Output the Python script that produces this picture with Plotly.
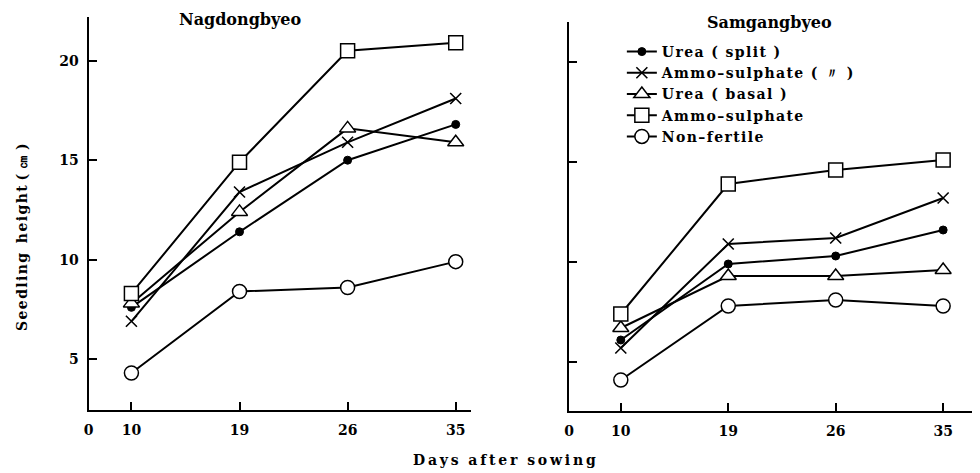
import plotly.graph_objects as go

# ---------------- data ----------------
days = [10, 19, 26, 35]
tick_labels = ["0", "10", "19", "26", "35"]
y_ticks = [5, 10, 15, 20]

series_names = ["Urea ( split )", "Ammo–sulphate ( 〃 )", "Urea ( basal )",
                "Ammo–sulphate", "Non–fertile"]

# Nagdongbyeo
nag_urea_split = [7.6, 11.4, 15.0, 16.8]
nag_ammo_split = [6.9, 13.4, 15.9, 18.1]
nag_urea_basal = [7.8, 12.4, 16.6, 15.9]
nag_ammo_basal = [8.3, 14.9, 20.5, 20.9]
nag_non_fertile = [4.3, 8.4, 8.6, 9.9]

# Samgangbyeo
sam_urea_split = [6.1, 9.9, 10.3, 11.6]
sam_ammo_split = [5.7, 10.9, 11.2, 13.2]
sam_urea_basal = [6.7, 9.3, 9.3, 9.6]
sam_ammo_basal = [7.4, 13.9, 14.6, 15.1]
sam_non_fertile = [4.1, 7.8, 8.1, 7.8]

# page has an 8px body margin -> figure sized so that it fills the window exactly
OFF = 8
W, H = 980 - OFF, 473 - OFF
FONT = "DejaVu Serif"
HS = "\u200a"  # hair space, used for the letter-spaced typesetting of the original


def spaced(s):
    return HS.join(s)


def px_x(p):
    return (p - OFF) / W


def px_y(p):
    return 1 - (p - OFF) / H


styles = [
    dict(symbol="circle", size=8, color="black", line=dict(color="black", width=1)),
    dict(symbol="x-thin-open", size=11, color="black", line=dict(color="black", width=1.6)),
    dict(symbol="triangle-up", size=14, color="white", line=dict(color="black", width=1.5)),
    dict(symbol="square", size=14, color="white", line=dict(color="black", width=1.5)),
    dict(symbol="circle", size=14, color="white", line=dict(color="black", width=1.5)),
]

xpos = list(range(1, len(days) + 1))

fig = go.Figure()
panels = [
    ("x", "y", [nag_urea_split, nag_ammo_split, nag_urea_basal, nag_ammo_basal, nag_non_fertile], False),
    ("x2", "y2", [sam_urea_split, sam_ammo_split, sam_urea_basal, sam_ammo_basal, sam_non_fertile], True),
]
for xa, ya, data, show in panels:
    for name, vals, st in zip(series_names, data, styles):
        fig.add_trace(go.Scatter(
            x=xpos, y=vals, mode="lines+markers", name=spaced(name),
            xaxis=xa, yaxis=ya, showlegend=show,
            line=dict(color="black", width=2),
            marker=st,
        ))

axis_common = dict(showgrid=False, zeroline=False, showline=True, linecolor="black",
                   linewidth=2, ticks="inside", ticklen=8, tickwidth=2, tickcolor="black",
                   tickfont=dict(family=FONT, size=14, color="black", weight="bold"))

x0_left, x1_left = 0.604, 4.138
x0_right, x1_right = 0.519, 4.343

fig.update_layout(
    width=W, height=H,
    margin=dict(l=0, r=0, t=0, b=0),
    paper_bgcolor="white", plot_bgcolor="white",
    xaxis=dict(domain=[px_x(84), px_x(468)], range=[x0_left, x1_left],
               tickvals=[x0_left] + xpos, ticktext=tick_labels, anchor="y",
               ticklabelstandoff=6, **axis_common),
    yaxis=dict(domain=[px_y(410), px_y(17)], range=[2.44, 22.2],
               tickvals=y_ticks, anchor="x", ticklabelstandoff=5, **axis_common),
    xaxis2=dict(domain=[px_x(567), 1.0], range=[x0_right, x1_right],
                tickvals=[x0_right] + xpos, ticktext=tick_labels, anchor="y2",
                ticklabelstandoff=6, **axis_common),
    yaxis2=dict(domain=[px_y(411), px_y(22)], range=[2.55, 22.0],
                tickvals=y_ticks, showticklabels=False, anchor="x2", **axis_common),
    legend=dict(x=px_x(620), y=px_y(36), xanchor="left", yanchor="top",
                bgcolor="rgba(0,0,0,0)", borderwidth=0, tracegroupgap=0,
                font=dict(family=FONT, size=14, color="black", weight="bold")),
    showlegend=True,
)

ann_font = dict(family=FONT, size=16, color="black", weight="bold")
fig.add_annotation(text="Nagdongbyeo", x=px_x(237), y=px_y(20), xref="paper", yref="paper",
                   xanchor="center", yanchor="middle", showarrow=False, font=ann_font)
fig.add_annotation(text="Samgangbyeo", x=px_x(768), y=px_y(22), xref="paper", yref="paper",
                   xanchor="center", yanchor="middle", showarrow=False, font=ann_font)
ts = "\u2009"
fig.add_annotation(text=ts.join("Days") + "  " + ts.join("after") + "  " + ts.join("sowing"),
                   x=px_x(502), y=px_y(460), xref="paper", yref="paper",
                   xanchor="center", yanchor="middle", showarrow=False,
                   font=dict(family=FONT, size=14, color="black", weight="bold"))
fig.add_annotation(text=spaced("Seedling") + "  " + spaced("height") + " ( ㎝ )",
                   x=px_x(17), y=px_y(237),
                   xref="paper", yref="paper", xanchor="center", yanchor="middle",
                   showarrow=False, textangle=-90,
                   font=dict(family=FONT, size=14, color="black", weight="bold"))

fig.write_html("out.html")
